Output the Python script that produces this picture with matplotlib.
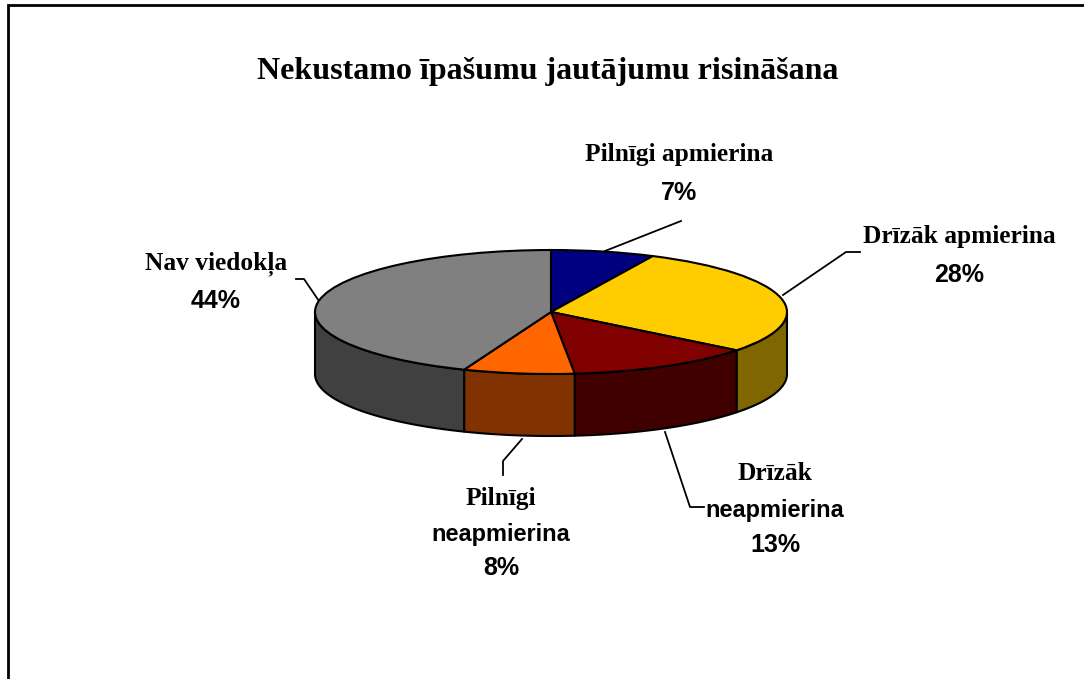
import numpy as np
import matplotlib
matplotlib.use("Agg")
import matplotlib.pyplot as plt

W, H = 1084, 679

# data, shares estimated from the slice edges (they round to the printed percents)
labels = ["Pilnīgi apmierina", "Drīzāk apmierina", "Drīzāk neapmierina", "Pilnīgi neapmierina", "Nav viedokļa"]
values = [7.1, 28.5, 12.8, 7.6, 44]
top_colors = ["#000080", "#FFCC00", "#800000", "#FF6600", "#808080"]
side_colors = ["#000040", "#806600", "#400000", "#803300", "#404040"]
title = "Nekustamo īpašumu jautājumu risināšana"

SERIF = "Liberation Serif"
SANS = "Liberation Sans"

# pie geometry in pixels
CX, CY, RX, RY, DEPTH = 551, 312, 236, 62, 62

fig = plt.figure(figsize=(W / 100, H / 100), dpi=100)
bg = fig.add_axes([0, 0, 1, 1])
bg.set_xlim(0, W)
bg.set_ylim(H, 0)
bg.axis("off")

# squashed axes, so a unit circle comes out as the ellipse of the pie
pie_ax = fig.add_axes([(CX - RX) / W, (H - CY - RY - DEPTH) / H, 2 * RX / W, (2 * RY + DEPTH) / H])
pie_ax.patch.set_alpha(0)
d = DEPTH / RY

# side walls, only the front half can be seen
edges = 90 - 3.6 * np.cumsum([0] + values)
for i, v in enumerate(values):
    a1, a0 = edges[i], edges[i + 1]
    lo, hi = max(a0, -180), min(a1, 0)
    if lo >= hi:
        continue
    t = np.radians(np.linspace(hi, lo, 60))
    xs = np.r_[np.cos(t), np.cos(t)[::-1]]
    ys = np.r_[np.sin(t), np.sin(t)[::-1] - d]
    pie_ax.fill(xs, ys, facecolor=side_colors[i], edgecolor="black", linewidth=1.5, joinstyle="round")

pie_ax.pie(values, colors=top_colors, startangle=90, counterclock=False, radius=1,
           wedgeprops={"edgecolor": "black", "linewidth": 1.5})
pie_ax.set_aspect("auto")
pie_ax.set_xlim(-1, 1)
pie_ax.set_ylim(-1 - d, 1)
pie_ax.axis("off")
for p in pie_ax.patches:
    p.set_clip_on(False)

# frame, only left and top are in the picture
bg.plot([8, 8, W], [H, 5, 5], color="black", lw=2.0, solid_joinstyle="miter")

bg.text(548, 71, title, family=SERIF, weight="bold", fontsize=23, ha="center", va="center")

def label(x, y, parts):
    for dy, txt, fam in parts:
        if fam == SERIF:
            size = 18.3
        elif txt.endswith("%"):
            size = 18
        else:
            size = 16.9
        bg.text(x, y + dy, txt, family=fam, weight="bold", fontsize=size, ha="center", va="center", color="black")

label(679, 155, [(0, "Pilnīgi apmierina", SERIF), (38, "7%", SANS)])
label(959, 236, [(0, "Drīzāk apmierina", SERIF), (39, "28%", SANS)])
label(775, 473, [(0, "Drīzāk", SERIF), (37, "neapmierina", SANS), (72, "13%", SANS)])
label(501, 498, [(0, "Pilnīgi", SERIF), (36, "neapmierina", SANS), (70, "8%", SANS)])
label(216, 264, [(0, "Nav viedokļa", SERIF), (37, "44%", SANS)])

# leader lines
leaders = [
    ([605, 681], [251, 221]),
    ([783, 846, 860], [295, 252, 252]),
    ([665, 690, 704], [432, 507, 507]),
    ([522, 503, 503], [439, 461, 475]),
    ([319, 304, 296], [301, 279, 279]),
]
for xs, ys in leaders:
    bg.plot(xs, ys, color="black", lw=1.3)

fig.savefig("out.png", dpi=100)
